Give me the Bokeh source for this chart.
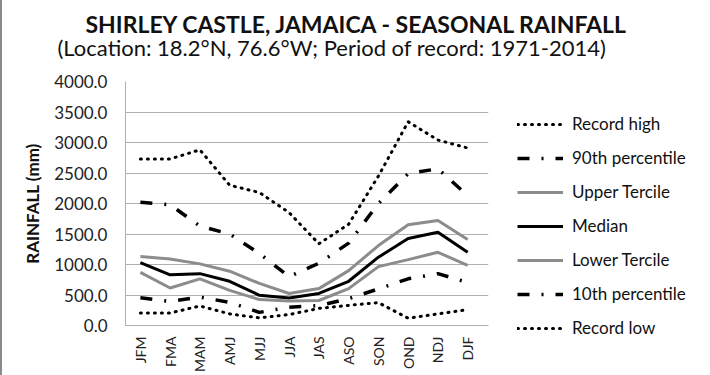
from bokeh.plotting import figure
from bokeh.models import (Range1d, FixedTicker, NumeralTickFormatter, Title,
                          Legend, LegendItem)
from bokeh.embed import file_html
from bokeh.resources import INLINE
import math

seasons = ["JFM", "FMA", "MAM", "AMJ", "MJJ", "JJA", "JAS", "ASO", "SON", "OND", "NDJ", "DJF"]
record_high = [2730, 2730, 2880, 2300, 2180, 1850, 1340, 1660, 2450, 3340, 3040, 2910]
pct90 = [2020, 1980, 1630, 1500, 1180, 800, 1020, 1350, 2000, 2490, 2570, 2130]
upper_tercile = [1130, 1090, 1010, 890, 690, 525, 605, 900, 1310, 1650, 1720, 1410]
median = [1030, 830, 850, 725, 495, 450, 525, 725, 1120, 1425, 1530, 1200]
lower_tercile = [870, 615, 765, 575, 425, 400, 410, 605, 965, 1080, 1200, 985]
pct10 = [455, 395, 465, 380, 215, 300, 325, 440, 600, 765, 850, 705]
record_low = [205, 205, 320, 190, 125, 180, 280, 330, 375, 120, 190, 260]
y_ticks = [0, 500, 1000, 1500, 2000, 2500, 3000, 3500, 4000]

FONT = "Lato"
x = [i + 0.5 for i in range(len(seasons))]

p = figure(frame_width=363, frame_height=244, output_backend="svg",
           toolbar_location=None,
           x_range=Range1d(0, 12.2), y_range=Range1d(0, 4000),
           min_border_left=125, min_border_right=222, min_border_top=81,
           min_border_bottom=50, title=None)
p.border_fill_color = None
p.background_fill_color = "white"
p.outline_line_color = None
p.styles = {"background-color": "white",
            "box-shadow": "inset 2px 0 0 #8a8a8a, inset -2px 0 0 #8a8a8a"}

# axes
p.xaxis.ticker = FixedTicker(ticks=x)
p.xaxis.major_label_overrides = {xi: s for xi, s in zip(x, seasons)}
p.xaxis.major_label_orientation = math.pi / 2
p.xaxis.major_tick_out = 0
p.xaxis.minor_tick_out = 0
p.xaxis.major_tick_line_color = None
p.xaxis.minor_tick_line_color = None
p.xaxis.major_label_standoff = 11
p.xaxis.axis_line_color = "#b0b0b0"
p.xaxis.major_label_text_font = FONT
p.xaxis.major_label_text_font_size = "14px"
p.xaxis.major_label_text_color = "#222222"

p.yaxis.ticker = FixedTicker(ticks=y_ticks)
p.yaxis.formatter = NumeralTickFormatter(format="0.0")
p.yaxis.major_tick_out = 0
p.yaxis.minor_tick_out = 0
p.yaxis.major_tick_line_color = None
p.yaxis.minor_tick_line_color = None
p.yaxis.major_label_standoff = 18
p.yaxis.axis_line_color = "#b0b0b0"
p.yaxis.major_label_text_font = FONT
p.yaxis.major_label_text_font_size = "17px"
p.yaxis.major_label_text_color = "#222222"
p.yaxis.axis_label = "RAINFALL (mm)"
p.yaxis.axis_label_text_font = FONT
p.yaxis.axis_label_text_font_style = "bold"
p.yaxis.axis_label_text_font_size = "17px"
p.yaxis.axis_label_text_color = "#111111"
p.yaxis.axis_label_standoff = 8

p.xgrid.grid_line_color = None
p.ygrid.ticker = FixedTicker(ticks=y_ticks)
p.ygrid.grid_line_color = "#b0b0b0"
p.ygrid.grid_line_width = 1

# series
DOT = "1 6"
DASHDOT = "12 12 2 12"
r_high = p.line(x, record_high, line_color="black", line_width=3,
                line_dash=DOT, line_cap="round")
r_90 = p.line(x, pct90, line_color="black", line_width=3.5, line_dash=DASHDOT)
r_up = p.line(x, upper_tercile, line_color="#8c8c8c", line_width=3)
r_med = p.line(x, median, line_color="black", line_width=3)
r_low = p.line(x, lower_tercile, line_color="#8c8c8c", line_width=3)
r_10 = p.line(x, pct10, line_color="black", line_width=3.5, line_dash=DASHDOT)
r_rl = p.line(x, record_low, line_color="black", line_width=3,
              line_dash=DOT, line_cap="round")

legend = Legend(items=[
    LegendItem(label="Record high", renderers=[r_high]),
    LegendItem(label="90th percentile", renderers=[r_90]),
    LegendItem(label="Upper Tercile", renderers=[r_up]),
    LegendItem(label="Median", renderers=[r_med]),
    LegendItem(label="Lower Tercile", renderers=[r_low]),
    LegendItem(label="10th percentile", renderers=[r_10]),
    LegendItem(label="Record low", renderers=[r_rl]),
], location=(29, -13))
legend.padding = 0
legend.margin = 0
legend.spacing = 13
legend.glyph_width = 46
legend.glyph_height = 20
legend.label_height = 20
legend.label_standoff = 9
legend.border_line_color = None
legend.background_fill_alpha = 0
legend.label_text_font = FONT
legend.label_text_font_size = "17px"
legend.label_text_color = "#111111"
p.add_layout(legend, "right")

# titles
spacer = Title(text=" ", text_font=FONT, text_font_size="16px", standoff=0)
subtitle = Title(text="(Location: 18.2\u00b0N, 76.6\u00b0W; Period of record: 1971-2014)",
                 align="left", offset=-68, text_font=FONT, text_font_size="22px",
                 text_font_style="normal", text_color="#111111", standoff=0)
title = Title(text="SHIRLEY CASTLE, JAMAICA - SEASONAL RAINFALL",
              align="left", offset=-40, text_font=FONT, text_font_size="23px",
              text_font_style="bold", text_color="#111111", standoff=-12)
p.add_layout(spacer, "above")
p.add_layout(subtitle, "above")
p.add_layout(title, "above")

open("out.html", "w").write(file_html(p, INLINE))
